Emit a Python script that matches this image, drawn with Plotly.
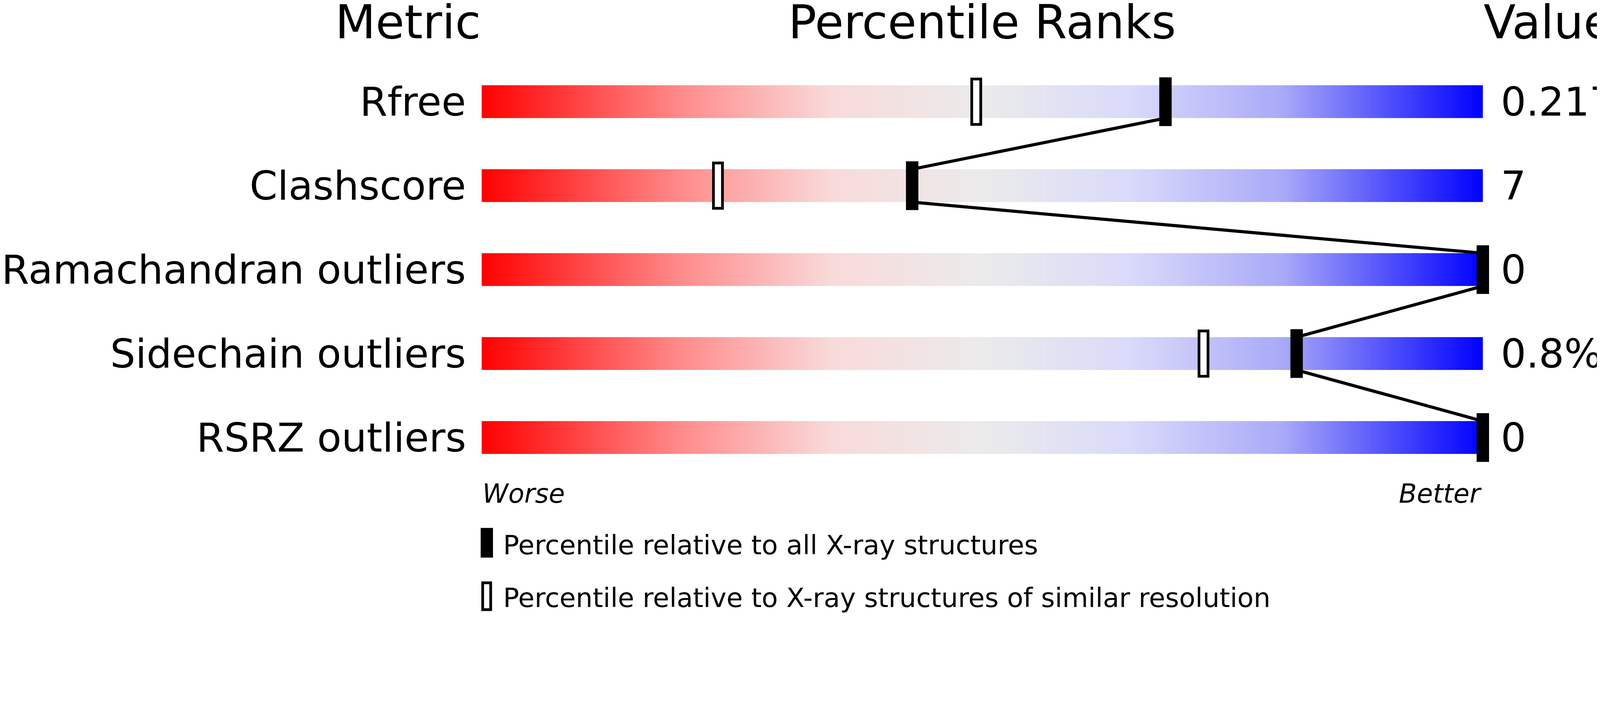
import plotly.graph_objects as go
import numpy as np

metrics = ["Rfree", "Clashscore", "Ramachandran outliers", "Sidechain outliers", "RSRZ outliers"]
values = ["0.217", "7", "0", "0.8%", "0"]
pct_all = [68.3, 43.0, 100.0, 81.4, 100.0]
pct_sim = [49.4, 23.6, None, 72.1, None]

W, H = 4122, 1567
FONT = "DejaVu Sans"
cscale = [[0, "#ff0000"], [0.2, "#ff8c8c"], [0.35, "#f9dada"], [0.5, "#ebebeb"],
          [0.65, "#d9d9fb"], [0.8, "#a9a9f9"], [1, "#0000ff"]]

fig = go.Figure()
xe = np.linspace(0, 100, 301)
xc = (xe[:-1] + xe[1:]) / 2
BH = 0.196
for i, m in enumerate(metrics):
    fig.add_trace(go.Heatmap(x=xe, y=[i - BH, i + BH], z=[xc], colorscale=cscale,
                             zmin=0, zmax=100, showscale=False, hoverinfo="skip"))

lx, ly = [], []
for i in range(len(metrics) - 1):
    lx += [pct_all[i], pct_all[i + 1], None]
    ly += [i + BH, i + 1 - BH, None]
fig.add_trace(go.Scatter(x=lx, y=ly, mode="lines", line=dict(color="black", width=8),
                         hoverinfo="skip", showlegend=False))

shapes = []
for i, p in enumerate(pct_all):
    shapes.append(dict(type="rect", xref="x", yref="y", x0=p - 0.62, x1=p + 0.62,
                       y0=i - 0.29, y1=i + 0.29, fillcolor="black", line=dict(width=0)))
for i, p in enumerate(pct_sim):
    if p is None:
        continue
    shapes.append(dict(type="rect", xref="x", yref="y", x0=p - 0.45, x1=p + 0.45,
                       y0=i - 0.27, y1=i + 0.27, fillcolor="white",
                       line=dict(color="black", width=7)))
shapes.append(dict(type="rect", xref="x", yref="y", x0=-0.1, x1=1.13, y0=5.076, y1=5.43,
                   fillcolor="black", line=dict(width=0)))
shapes.append(dict(type="rect", xref="x", yref="y", x0=0.1, x1=0.9, y0=5.73, y1=6.05,
                   fillcolor="white", line=dict(color="black", width=7)))

ann = []
def A(x, y, t, size, xa, italic=False):
    ann.append(dict(x=x, y=y, xref="x", yref="y", text=f"<i>{t}</i>" if italic else t,
                    showarrow=False, xanchor=xa, yanchor="middle",
                    font=dict(family=FONT, size=size, color="black")))
A(0, -0.95, "Metric", 120, "right")
A(50, -0.95, "Percentile Ranks", 120, "center")
A(100, -0.95, "Value", 120, "left")
for i, m in enumerate(metrics):
    A(-1.5, i, m, 102, "right")
    A(101.7, i, values[i], 102, "left")
A(0, 4.67, "Worse", 67, "left", True)
A(100, 4.67, "Better", 67, "right", True)
A(2.05, 5.28, "Percentile relative to all X-ray structures", 68, "left")
A(2.05, 5.91, "Percentile relative to X-ray structures of similar resolution", 68, "left")

fig.update_layout(width=W, height=H, margin=dict(l=0, r=0, t=0, b=0),
                  paper_bgcolor="white", plot_bgcolor="white", shapes=shapes, annotations=ann,
                  showlegend=False,
                  xaxis=dict(range=[-47.8, 113.03], visible=False, fixedrange=True),
                  yaxis=dict(range=[6.116, -1.174], visible=False, fixedrange=True))
fig.write_html("out.html")
